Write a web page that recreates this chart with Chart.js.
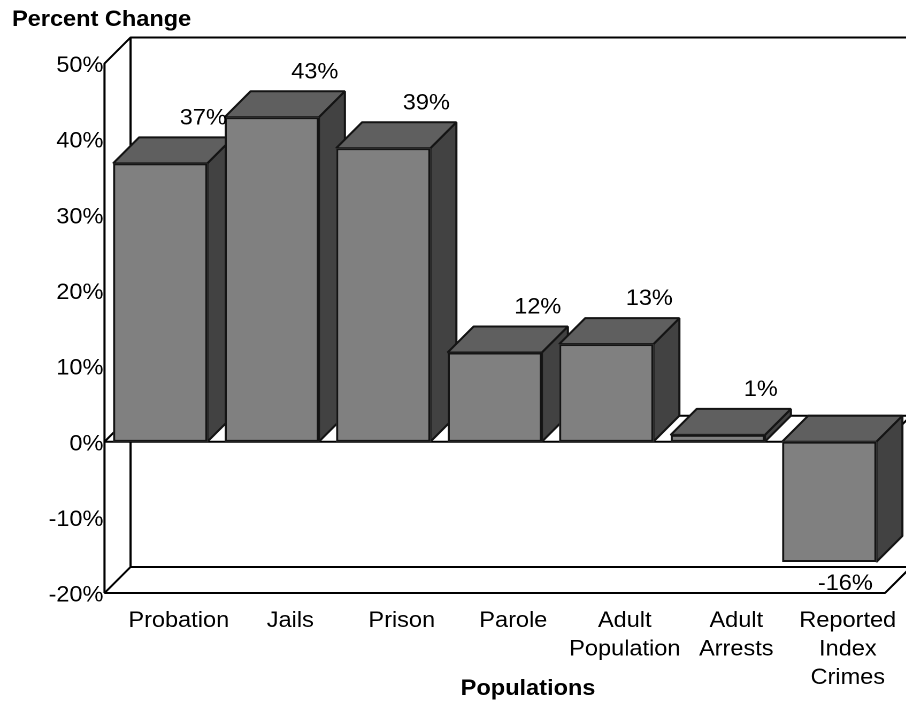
<!DOCTYPE html>
<html>
<head>
<meta charset="utf-8">
<style>
html,body{margin:0;padding:0;background:#fff;overflow:hidden;width:906px;height:702px}
#wrap{width:906px;height:702px;overflow:hidden}
canvas{display:block;transform-origin:0 0;transform:scaleX(1.0697)}
</style>
<script src="https://cdn.jsdelivr.net/npm/chart.js@4"></script>
</head>
<body>
<div id="wrap"><canvas id="c" width="847" height="702"></canvas></div>
<script>
const categories = ["Probation","Jails","Prison","Parole",["Adult","Population"],["Adult","Arrests"],["Reported","Index","Crimes"]];
const values = [36.8,42.9,38.8,11.8,12.9,0.9,-15.9];
const valueLabels = ["37%","43%","39%","12%","13%","1%","-16%"];
const yTitle = "Percent Change";
const xTitle = "Populations";

const S = 906 / 847;
const FONT = '"Liberation Sans", Arial, sans-serif';
const DX = 26 / S, DY = 26;
const LINE = '#000', EDGE = '#141414';

function poly(ctx, pts, fill, stroke, lw) {
  ctx.beginPath();
  pts.forEach((p, i) => i ? ctx.lineTo(p[0], p[1]) : ctx.moveTo(p[0], p[1]));
  if (fill) { ctx.closePath(); ctx.fillStyle = fill; ctx.fill(); }
  ctx.strokeStyle = stroke; ctx.lineWidth = lw; ctx.lineJoin = 'bevel';
  ctx.stroke();
}

const box3d = {
  id: 'box3d',
  beforeDatasetsDraw(chart) {
    const ctx = chart.ctx, a = chart.chartArea, y = chart.scales.y;
    const zero = y.getPixelForValue(0), top = y.getPixelForValue(y.max), bot = y.getPixelForValue(y.min);
    ctx.save();
    poly(ctx, [[a.left, bot], [a.left, top], [a.left + DX, top - DY], [a.right + DX, top - DY]], null, LINE, 2);
    poly(ctx, [[a.left + DX, top - DY], [a.left + DX, bot - DY], [a.right + DX, bot - DY], [a.right, bot], [a.left, bot], [a.left + DX, bot - DY]], null, LINE, 2);
    poly(ctx, [[a.right + DX, zero - DY], [a.left + DX, zero - DY], [a.left, zero], [a.right, zero], [a.right + DX, zero - DY]], null, LINE, 2);
    chart.getDatasetMeta(0).data.forEach((b) => {
      const p = b.getProps(['x', 'y', 'base', 'width'], true);
      const l = p.x - p.width / 2, r = p.x + p.width / 2;
      const up = Math.min(p.y, p.base), low = Math.max(p.y, p.base);
      poly(ctx, [[r, up], [r + DX, up - DY], [r + DX, low - DY], [r, low]], '#424242', EDGE, 2);
      poly(ctx, [[l, up], [l + DX, up - DY], [r + DX, up - DY], [r, up]], '#5f5f5f', EDGE, 2);
      ctx.fillStyle = '#808080';
      ctx.fillRect(l, up, r - l, low - up);
    });
    ctx.restore();
  },
  afterDatasetsDraw(chart) {
    const ctx = chart.ctx;
    ctx.save();
    ctx.fillStyle = '#000';
    ctx.font = '22px ' + FONT;
    ctx.textAlign = 'center';
    ctx.textBaseline = 'middle';
    chart.getDatasetMeta(0).data.forEach((b, i) => {
      const p = b.getProps(['x', 'y', 'base'], true);
      if (p.y <= p.base) ctx.fillText(valueLabels[i], p.x + 43 / S, p.y - 45);
      else ctx.fillText(valueLabels[i], p.x + 16 / S, p.y + 22);
    });
    ctx.font = 'bold 22px ' + FONT;
    ctx.textAlign = 'left';
    ctx.fillText(yTitle, 12 / S, 20);
    ctx.textAlign = 'center';
    ctx.fillText(xTitle, 528 / S, 689);
    ctx.restore();
  }
};

new Chart(document.getElementById('c'), {
  type: 'bar',
  data: {
    labels: categories,
    datasets: [{
      data: values,
      backgroundColor: '#808080',
      borderColor: EDGE,
      borderWidth: 2,
      borderSkipped: false,
      barPercentage: 0.845,
      categoryPercentage: 1
    }]
  },
  plugins: [box3d],
  options: {
    responsive: false,
    animation: false,
    devicePixelRatio: 2,
    layout: { padding: { top: 63.5, right: 21 / S, left: 0, bottom: 0 } },
    plugins: { legend: { display: false }, tooltip: { enabled: false }, title: { display: false } },
    scales: {
      x: {
        afterFit(s) { s.height = 109; },
        grid: { display: false, drawTicks: false },
        border: { display: false },
        ticks: {
          padding: 13.5,
          labelOffset: 18.5 / S,
          maxRotation: 0,
          autoSkip: false,
          color: '#000',
          font: { family: FONT, size: 22, lineHeight: 1.3 }
        }
      },
      y: {
        min: -20,
        max: 50,
        afterFit(s) { s.width = 104.5 / S; },
        grid: { display: false, drawTicks: false },
        border: { display: false },
        ticks: {
          stepSize: 10,
          padding: 1,
          labelOffset: 2.5,
          color: '#000',
          font: { family: FONT, size: 22 },
          callback: (v) => v + '%'
        }
      }
    }
  }
});
</script>
</body>
</html>
